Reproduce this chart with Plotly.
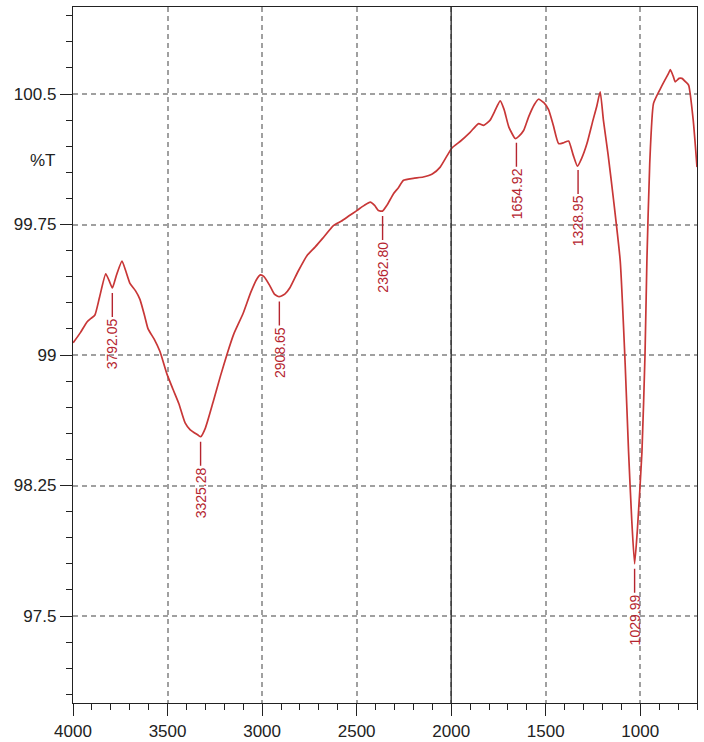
import numpy as np
import plotly.graph_objects as go

# Wavenumber (cm-1) and %T
wavenumber = [3999, 3960, 3926, 3905, 3884, 3860, 3827, 3810, 3792, 3770, 3741, 3720,
              3698, 3670, 3646, 3620, 3603, 3570, 3540, 3503, 3470, 3440, 3407, 3380,
              3339, 3325, 3300, 3259, 3220, 3185, 3150, 3100, 3060, 3026, 3008, 2990,
              2960, 2935, 2910, 2880, 2852, 2810, 2763, 2720, 2680, 2623, 2580, 2540,
              2499, 2460, 2428, 2405, 2385, 2363, 2340, 2305, 2280, 2252, 2200, 2148,
              2100, 2058, 1996, 1950, 1900, 1855, 1829, 1794, 1770, 1741, 1720, 1695,
              1661, 1640, 1617, 1590, 1560, 1538, 1510, 1485, 1460, 1432, 1405, 1379,
              1355, 1332, 1310, 1282, 1250, 1230, 1212, 1195, 1170, 1141, 1106, 1080,
              1062, 1045, 1030, 1015, 991, 975, 965, 950, 930, 894, 870, 850, 841, 825,
              815, 795, 780, 760, 744, 720, 700]
transmittance = [99.07, 99.13, 99.19, 99.21, 99.23, 99.33, 99.466, 99.43, 99.385, 99.46, 99.54, 99.48,
                 99.41, 99.37, 99.32, 99.22, 99.15, 99.09, 99.02, 98.89, 98.80, 98.72, 98.61, 98.57,
                 98.54, 98.53, 98.58, 98.73, 98.88, 99.006, 99.12, 99.24, 99.36, 99.44, 99.46, 99.45,
                 99.40, 99.35, 99.335, 99.35, 99.388, 99.48, 99.571, 99.62, 99.67, 99.744, 99.77, 99.80,
                 99.83, 99.86, 99.879, 99.86, 99.83, 99.827, 99.86, 99.927, 99.96, 100.004, 100.015, 100.023,
                 100.04, 100.08, 100.19, 100.23, 100.28, 100.33, 100.32, 100.35, 100.40, 100.46, 100.41, 100.31,
                 100.244, 100.26, 100.29, 100.37, 100.44, 100.47, 100.45, 100.41, 100.32, 100.215, 100.22, 100.23,
                 100.15, 100.085, 100.13, 100.215, 100.35, 100.43, 100.513, 100.35, 100.15, 99.888, 99.54, 98.95,
                 98.446, 98.05, 97.80, 98.0, 98.446, 99.0, 99.54, 100.1, 100.446, 100.53, 100.58, 100.62, 100.64, 100.60,
                 100.57, 100.59, 100.59, 100.57, 100.55, 100.35, 100.08]

peak_labels = [3792.05, 3325.28, 2908.65, 2362.80, 1654.92, 1328.95, 1029.99]

x_tickvals = [4000, 3500, 3000, 2500, 2000, 1500, 1000]
y_tickvals = [97.5, 98.25, 99, 99.75, 100.5]
y_ticktext = ["97.5", "98.25", "99", "99.75", "100.5"]

LINE = "#c83737"
LABEL = "#b5252f"
AXC = "#222222"
GRID = "#a0a0a0"
FONT = "Liberation Sans, Arial, sans-serif"

fig = go.Figure()
fig.add_trace(go.Scatter(x=wavenumber, y=transmittance, mode="lines",
                         line=dict(color=LINE, width=1.7, shape="spline", smoothing=0.5),
                         hoverinfo="x+y", showlegend=False))

wn_asc = np.array(wavenumber[::-1], dtype=float)
t_asc = np.array(transmittance[::-1], dtype=float)
for wn in peak_labels:
    yv = float(np.interp(wn, wn_asc, t_asc))
    fig.add_annotation(x=wn, y=yv, xref="x", yref="y", text=f"{wn:.2f}",
                       textangle=-90, showarrow=True, arrowhead=0, arrowwidth=1.4,
                       arrowcolor=LABEL, ax=0, ay=56, standoff=5,
                       font=dict(family=FONT, size=14, color=LABEL))

fig.add_vline(x=2000, line=dict(color="#333333", width=1.4))

fig.add_annotation(text="%T", xref="paper", yref="paper", x=0, y=0.78,
                   xanchor="right", yanchor="middle", xshift=-15, showarrow=False,
                   font=dict(family=FONT, size=17, color=AXC))

fig.update_xaxes(range=[4000, 700], tickvals=x_tickvals, ticks="outside", ticklen=12,
                 tickwidth=1.4, tickcolor=AXC, showline=True, linecolor=AXC, linewidth=1.4,
                 mirror=True, showgrid=True, gridcolor=GRID, gridwidth=1.5, griddash="5px,4px",
                 zeroline=False, automargin=False,
                 minor=dict(dtick=100, tick0=4000, ticks="outside", ticklen=6, tickwidth=1.4,
                            tickcolor=AXC, showgrid=False),
                 tickfont=dict(family=FONT, size=17, color=AXC))
fig.update_yaxes(range=[97.0, 101.0], tickvals=y_tickvals, ticktext=y_ticktext, ticks="outside",
                 ticklen=12, tickwidth=1.4, tickcolor=AXC, showline=True, linecolor=AXC,
                 linewidth=1.4, mirror=True, showgrid=True, gridcolor=GRID, gridwidth=1.5,
                 griddash="5px,4px", zeroline=False, automargin=False,
                 minor=dict(dtick=0.15, tick0=97.5, ticks="outside", ticklen=6, tickwidth=1.4,
                            tickcolor=AXC, showgrid=False),
                 tickfont=dict(family=FONT, size=17, color=AXC))

fig.update_layout(width=704, height=742, margin=dict(l=73, r=7, t=7, b=39),
                  paper_bgcolor="white", plot_bgcolor="white",
                  font=dict(family=FONT, color=AXC))

fig.write_html("out.html", config={"displayModeBar": False},
               post_script="document.body.style.margin='0';")
